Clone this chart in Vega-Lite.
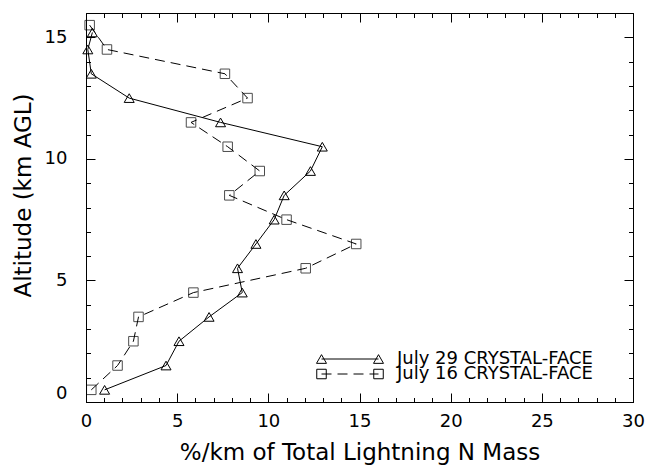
{
  "$schema": "https://vega.github.io/schema/vega-lite/v6.json",
  "width": 547,
  "height": 389,
  "autosize": "none",
  "padding": {"left": 86, "top": 13, "right": 16, "bottom": 66},
  "background": "white",
  "config": {
    "view": {"stroke": "black", "strokeWidth": 1, "fill": "transparent"},
    "axis": {
      "domain": false,
      "ticks": false,
      "tickSize": 0,
      "gridColor": "black",
      "gridOpacity": 1,
      "gridWidth": 1,
      "labelFont": "DejaVu Sans",
      "labelFontSize": 18,
      "labelColor": "black",
      "titleFont": "DejaVu Sans",
      "titleFontSize": 23,
      "titleFontWeight": "normal",
      "titleColor": "black"
    },
    "legend": {
      "labelFont": "DejaVu Sans", "labelFontSize": 18, "labelColor": "black", "labelLimit": 400,
      "padding": 0, "rowPadding": 0, "symbolSize": 100, "symbolStrokeWidth": 1,
      "symbolStrokeColor": "black", "symbolFillColor": "transparent", "symbolOpacity": 1
    }
  },
  "data": {
    "values": [
      {"series": "July 29 CRYSTAL-FACE", "alt": 15.2, "val": 0.35},
      {"series": "July 29 CRYSTAL-FACE", "alt": 14.5, "val": 0.1},
      {"series": "July 29 CRYSTAL-FACE", "alt": 13.5, "val": 0.29},
      {"series": "July 29 CRYSTAL-FACE", "alt": 12.5, "val": 2.37},
      {"series": "July 29 CRYSTAL-FACE", "alt": 11.5, "val": 7.38},
      {"series": "July 29 CRYSTAL-FACE", "alt": 10.5, "val": 12.96},
      {"series": "July 29 CRYSTAL-FACE", "alt": 9.5, "val": 12.31},
      {"series": "July 29 CRYSTAL-FACE", "alt": 8.5, "val": 10.87},
      {"series": "July 29 CRYSTAL-FACE", "alt": 7.5, "val": 10.32},
      {"series": "July 29 CRYSTAL-FACE", "alt": 6.5, "val": 9.32},
      {"series": "July 29 CRYSTAL-FACE", "alt": 5.5, "val": 8.31},
      {"series": "July 29 CRYSTAL-FACE", "alt": 4.5, "val": 8.57},
      {"series": "July 29 CRYSTAL-FACE", "alt": 3.5, "val": 6.75},
      {"series": "July 29 CRYSTAL-FACE", "alt": 2.5, "val": 5.1},
      {"series": "July 29 CRYSTAL-FACE", "alt": 1.5, "val": 4.39},
      {"series": "July 29 CRYSTAL-FACE", "alt": 0.5, "val": 1.02},
      {"series": "July 16 CRYSTAL-FACE", "alt": 15.5, "val": 0.2},
      {"series": "July 16 CRYSTAL-FACE", "alt": 14.5, "val": 1.15},
      {"series": "July 16 CRYSTAL-FACE", "alt": 13.5, "val": 7.62},
      {"series": "July 16 CRYSTAL-FACE", "alt": 12.5, "val": 8.86},
      {"series": "July 16 CRYSTAL-FACE", "alt": 11.5, "val": 5.76},
      {"series": "July 16 CRYSTAL-FACE", "alt": 10.5, "val": 7.77},
      {"series": "July 16 CRYSTAL-FACE", "alt": 9.5, "val": 9.53},
      {"series": "July 16 CRYSTAL-FACE", "alt": 8.5, "val": 7.86},
      {"series": "July 16 CRYSTAL-FACE", "alt": 7.5, "val": 11.0},
      {"series": "July 16 CRYSTAL-FACE", "alt": 6.5, "val": 14.82},
      {"series": "July 16 CRYSTAL-FACE", "alt": 5.5, "val": 12.05},
      {"series": "July 16 CRYSTAL-FACE", "alt": 4.5, "val": 5.89},
      {"series": "July 16 CRYSTAL-FACE", "alt": 3.5, "val": 2.88},
      {"series": "July 16 CRYSTAL-FACE", "alt": 2.5, "val": 2.6},
      {"series": "July 16 CRYSTAL-FACE", "alt": 1.5, "val": 1.73},
      {"series": "July 16 CRYSTAL-FACE", "alt": 0.5, "val": 0.29}
    ]
  },
  "resolve": {"axis": {"x": "independent", "y": "independent"}},
  "layer": [
    {
      "transform": [{"filter": "datum.series === 'July 29 CRYSTAL-FACE'"}],
      "mark": {"type": "line", "color": "black", "strokeWidth": 1},
      "encoding": {
        "x": {"field": "val", "type": "quantitative", "scale": {"domain": [0, 30], "nice": false, "zero": false},
          "axis": {"orient": "bottom", "values": [0, 5, 10, 15, 20, 25, 30], "grid": true, "gridDash": [9, 371, 9, 2000], "labelPadding": 10, "labelFlush": false, "labelOverlap": false, "title": "%/km of Total Lightning N Mass", "titlePadding": 11}},
        "y": {"field": "alt", "type": "quantitative", "scale": {"domain": [0, 16], "nice": false, "zero": false},
          "axis": {"orient": "left", "values": [0, 5, 10, 15], "grid": true, "gridDash": [9, 529, 9, 2000], "labelPadding": 19, "labelFlush": true, "labelOverlap": false, "title": "Altitude (km AGL)", "titlePadding": 9, "titleY": 182}},
        "order": {"field": "alt", "type": "quantitative"}
      }
    },
    {
      "transform": [{"filter": "datum.series === 'July 16 CRYSTAL-FACE'"}],
      "mark": {"type": "line", "color": "black", "strokeWidth": 1, "strokeDash": [10, 6]},
      "encoding": {
        "x": {"field": "val", "type": "quantitative",
          "axis": {"orient": "bottom", "values": [0,1,2,3,4,5,6,7,8,9,10,11,12,13,14,15,16,17,18,19,20,21,22,23,24,25,26,27,28,29,30], "grid": true, "gridDash": [4.5, 380, 4.5, 2000], "labels": false, "title": null}},
        "y": {"field": "alt", "type": "quantitative",
          "axis": {"orient": "left", "values": [0,1,2,3,4,5,6,7,8,9,10,11,12,13,14,15,16], "grid": true, "gridDash": [4.5, 538, 4.5, 2000], "labels": false, "title": null}},
        "order": {"field": "alt", "type": "quantitative"}
      }
    },
    {
      "transform": [{"filter": "datum.series === 'July 29 CRYSTAL-FACE'"}],
      "mark": {"type": "point", "shape": "triangle-up", "filled": false, "color": "black", "strokeWidth": 1, "size": 100},
      "encoding": {
        "x": {"field": "val", "type": "quantitative", "axis": null},
        "y": {"field": "alt", "type": "quantitative", "axis": null},
        "opacity": {"field": "series", "type": "nominal",
          "scale": {"domain": ["July 29 CRYSTAL-FACE"], "range": [1]},
          "legend": {
            "orient": "none", "legendX": 255, "legendY": 337, "title": null, "labelOffset": 38,
            "symbolType": "M-5.7,0L5.7,0M-5.7,-0.87L-6.7,0.87L-4.7,0.87ZM5.7,-0.87L4.7,0.87L6.7,0.87Z"
          }}
      }
    },
    {
      "transform": [{"filter": "datum.series === 'July 16 CRYSTAL-FACE'"}],
      "mark": {"type": "point", "shape": "square", "filled": false, "strokeWidth": 1, "size": 90},
      "encoding": {
        "x": {"field": "val", "type": "quantitative", "axis": null},
        "y": {"field": "alt", "type": "quantitative", "axis": null},
        "color": {"field": "series", "type": "nominal",
          "scale": {"domain": ["July 16 CRYSTAL-FACE"], "range": ["black"]},
          "legend": {
            "orient": "none", "legendX": 255, "legendY": 352, "title": null, "labelOffset": 38,
            "symbolType": "M-6.65,-0.95L-4.75,-0.95L-4.75,0.95L-6.65,0.95ZM4.75,-0.95L6.65,-0.95L6.65,0.95L4.75,0.95ZM-5.7,0L-3.7,0M-2.5,0L-0.5,0M0.7,0L2.7,0M3.9,0L5.7,0"
          }}
      }
    }
  ]
}
